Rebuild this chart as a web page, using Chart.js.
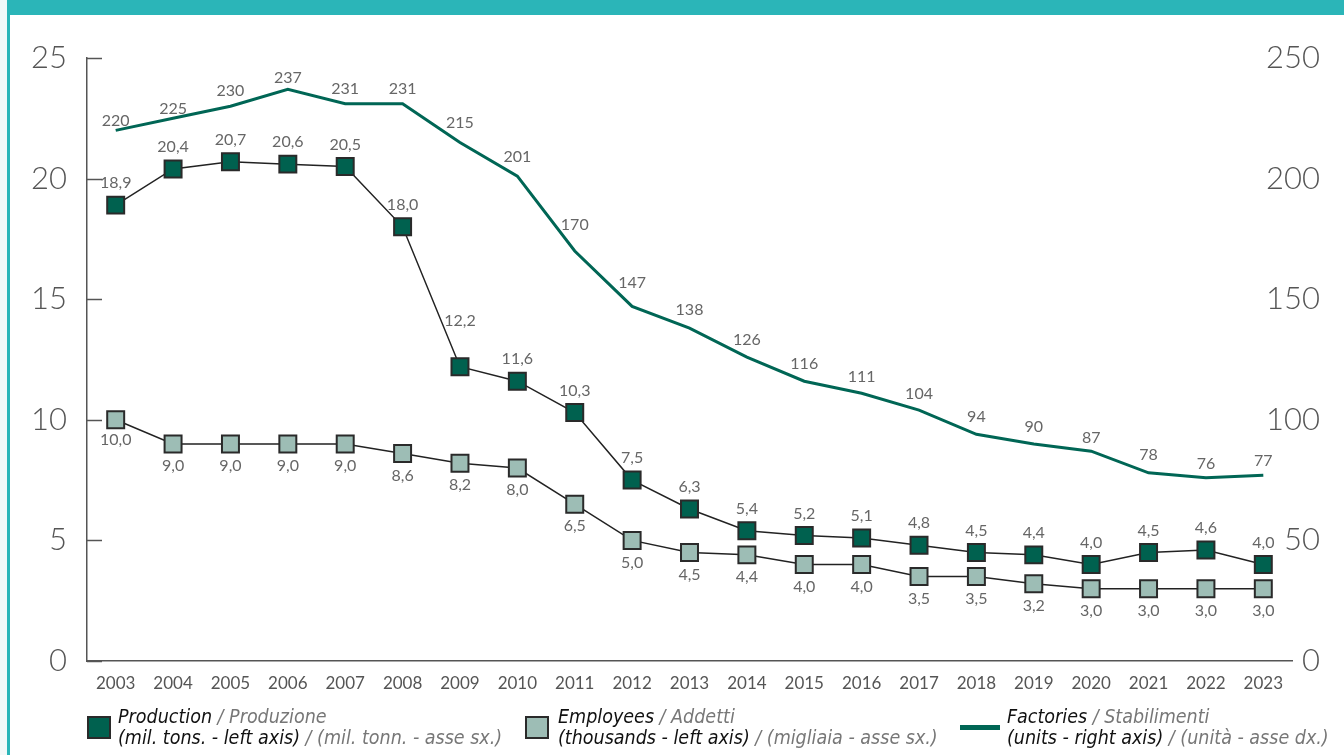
<!DOCTYPE html>
<html>
<head>
<meta charset="utf-8">
<script src="https://cdn.jsdelivr.net/npm/chart.js@4.4.1/dist/chart.umd.min.js"></script>
<style>
  body { margin: 0; background: #fff; width: 1344px; height: 755px; overflow: hidden; position: relative; }
  .strip { position: absolute; left: 0; top: 0; width: 7px; height: 755px; background: #f3f9f9; }
  .vline { position: absolute; left: 7px; top: 0; width: 3px; height: 755px; background: #2bb5b8; }
  .band { position: absolute; left: 7px; top: 0; width: 1337px; height: 15px; background: #2bb5b8; }
  #wrap { position: absolute; left: 0; top: 0; width: 1344px; height: 755px; }
  .leg { position: absolute; font-family: "Liberation Sans Narrow", "DejaVu Sans Condensed", Lato, sans-serif;
         font-style: italic; font-size: 19.5px; line-height: 21px; color: #111; white-space: nowrap; }
  .leg span { color: #777; }
  .sq { position: absolute; width: 24px; height: 23px; box-sizing: border-box; border: 2px solid #2a2a2a; }
  .ln { position: absolute; width: 40px; height: 5px; background: #006655; }
</style>
</head>
<body>
<div class="strip"></div>
<div class="vline"></div>
<div class="band"></div>
<div id="wrap"><canvas id="chartSteel"></canvas></div>

<div class="sq" style="left:87px;top:716px;background:#00614f"></div>
<div class="leg" style="left:118px;top:706px">Production <span>/ Produzione</span><br>(mil. tons. - left axis) <span>/ (mil. tonn. - asse sx.)</span></div>

<div class="sq" style="left:525px;top:716px;background:#9dbdb5"></div>
<div class="leg" style="left:558px;top:706px">Employees <span>/ Addetti</span><br>(thousands - left axis) <span>/ (migliaia - asse sx.)</span></div>

<div class="ln" style="left:960px;top:725px"></div>
<div class="leg" style="left:1007px;top:706px">Factories <span>/ Stabilimenti</span><br>(units - right axis) <span>/ (unità - asse dx.)</span></div>

<script>
const years = ['2003','2004','2005','2006','2007','2008','2009','2010','2011','2012','2013',
               '2014','2015','2016','2017','2018','2019','2020','2021','2022','2023']
const production = [18.9, 20.4, 20.7, 20.6, 20.5, 18.0, 12.2, 11.6, 10.3, 7.5, 6.3,
                    5.4, 5.2, 5.1, 4.8, 4.5, 4.4, 4.0, 4.5, 4.6, 4.0]
const employees = [10.0, 9.0, 9.0, 9.0, 9.0, 8.6, 8.2, 8.0, 6.5, 5.0, 4.5,
                   4.4, 4.0, 4.0, 3.5, 3.5, 3.2, 3.0, 3.0, 3.0, 3.0]
const factories = [220, 225, 230, 237, 231, 231, 215, 201, 170, 147, 138,
                   126, 116, 111, 104, 94, 90, 87, 78, 76, 77]
const leftTicks = [0, 5, 10, 15, 20, 25]
const rightTicks = [0, 50, 100, 150, 200, 250]

// label nudges (pixels from the point), layout only
const prodLabelDy = years.map((y, i) => i === 6 ? -46 : -22)
const empLabelDy = years.map((y, i) => i === 0 ? 20 : 22)
const factLabelDy = [-10, -9, -15, -12, -15, -15, -20, -19, -26, -24, -18,
                     -17, -17, -16, -16, -17, -17, -13, -18, -14, -14]

const comma = v => v.toFixed(1).replace('.', ',')

const pointLabels = {
  id: 'pointLabels',
  afterDatasetsDraw(chart) {
    const ctx = chart.ctx
    ctx.save()
    ctx.font = '16px Lato'
    ctx.fillStyle = '#666'
    ctx.textAlign = 'center'
    ctx.textBaseline = 'middle'
    chart.data.datasets.forEach((ds, di) => {
      chart.getDatasetMeta(di).data.forEach((pt, i) => {
        ctx.fillText(ds.fmt(ds.data[i]), pt.x, pt.y + ds.labelDy[i])
      })
    })
    ctx.restore()
  }
}

// inward tick marks on the left axis, and right-axis labels that sit over the plot edge
const axisExtras = {
  id: 'axisExtras',
  afterDraw(chart) {
    const ctx = chart.ctx
    const s = chart.scales.y
    const r = chart.scales.y1
    ctx.save()
    ctx.strokeStyle = '#555'
    ctx.lineWidth = 1.5
    s.ticks.forEach(t => {
      const py = Math.round(s.getPixelForValue(t.value)) + 0.5
      ctx.beginPath()
      ctx.moveTo(s.right, py)
      ctx.lineTo(s.right + 15, py)
      ctx.stroke()
    })
    ctx.font = '300 31px Lato'
    ctx.fillStyle = '#555'
    ctx.textAlign = 'right'
    ctx.textBaseline = 'middle'
    r.ticks.forEach(t => {
      ctx.fillText(String(t.value), r.right, r.getPixelForValue(t.value))
    })
    ctx.restore()
  }
}

new Chart(document.getElementById('chartSteel'), {
  type: 'line',
  data: {
    labels: years,
    datasets: [{
      label: 'Factories',
      data: factories,
      yAxisID: 'y1',
      borderColor: '#006655',
      borderWidth: 3,
      pointRadius: 0,
      tension: 0,
      fmt: v => String(v),
      labelDy: factLabelDy
    }, {
      label: 'Employees',
      data: employees,
      yAxisID: 'y',
      borderColor: '#222',
      borderWidth: 1.5,
      pointStyle: 'rect',
      pointRadius: 12,
      pointBackgroundColor: '#9dbdb5',
      pointBorderColor: '#2a2a2a',
      pointBorderWidth: 2,
      fmt: comma,
      labelDy: empLabelDy
    }, {
      label: 'Production',
      data: production,
      yAxisID: 'y',
      borderColor: '#222',
      borderWidth: 1.5,
      pointStyle: 'rect',
      pointRadius: 12,
      pointBackgroundColor: '#00614f',
      pointBorderColor: '#2a2a2a',
      pointBorderWidth: 2,
      fmt: comma,
      labelDy: prodLabelDy
    }]
  },
  options: {
    responsive: true,
    maintainAspectRatio: false,
    animation: false,
    layout: { padding: { left: 0, right: 24, top: 58, bottom: 64 } },
    plugins: {
      legend: { display: false },
      tooltip: { enabled: false }
    },
    scales: {
      x: {
        offset: true,
        grid: { display: false, drawTicks: false },
        border: { display: true, color: '#555', width: 1.5 },
        ticks: { color: '#555', font: { family: 'Lato', size: 17 }, padding: 12, maxRotation: 0, autoSkip: false },
        afterFit: s => { s.height = 30 }
      },
      y: {
        position: 'left',
        min: 0, max: 25,
        afterBuildTicks: s => { s.ticks = leftTicks.map(v => ({ value: v })) },
        grid: { display: false, drawTicks: false },
        border: { display: true, color: '#555', width: 1.5 },
        ticks: { color: '#555', font: { family: 'Lato', size: 31, weight: 300 }, padding: 20 },
        afterFit: s => { s.width = 87 }
      },
      y1: {
        position: 'right',
        min: 0, max: 250,
        afterBuildTicks: s => { s.ticks = rightTicks.map(v => ({ value: v })) },
        grid: { display: false, drawTicks: false },
        border: { display: false },
        ticks: { display: false },
        afterFit: s => { s.width = 28 }
      }
    }
  },
  plugins: [pointLabels, axisExtras]
})
</script>
</body>
</html>
